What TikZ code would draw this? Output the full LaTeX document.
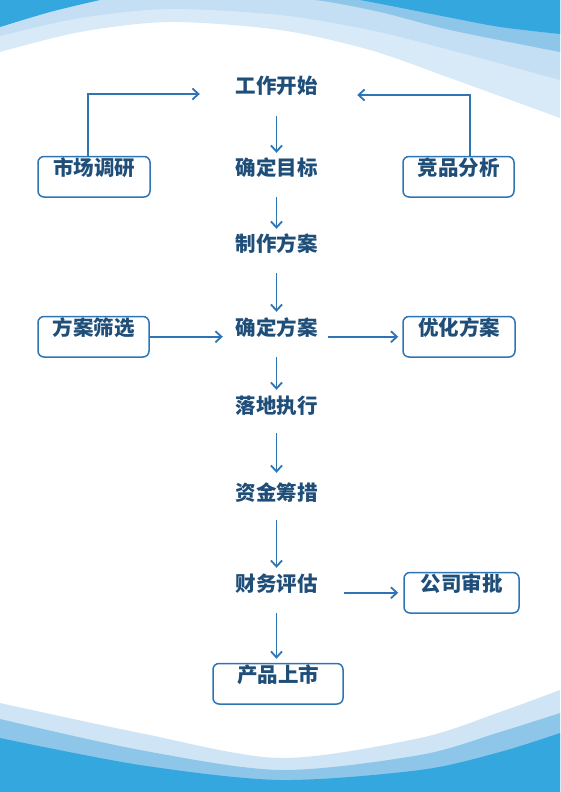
\documentclass[tikz,border=0pt]{standalone}
\usepackage{fontspec}
\newfontfamily\cjk{Noto Sans CJK SC}
\usetikzlibrary{positioning}
\usetikzlibrary{arrows.meta}

\definecolor{wavedark}{HTML}{35A7DF}
\definecolor{wavemid}{HTML}{8EC6EA}
\definecolor{wavelight}{HTML}{C4DFF3}
\definecolor{wavepale}{HTML}{D8EAF7}
\definecolor{wavepaleb}{HTML}{CFE5F5}
\definecolor{navy}{HTML}{1F4E79}
\definecolor{linkblue}{HTML}{2E75B6}

\tikzset{
  stage/.style={text=navy, font=\cjk\bfseries\fontsize{20.5}{20.5}\selectfont,
    inner sep=0pt, text height=16.5pt, text depth=1.5pt},
  sidebox/.style={stage, draw=linkblue, line width=1.5pt, rounded corners=6pt,
    text height=19pt, text depth=21.5pt, minimum width=#1},
  flow/.style={draw=linkblue, line width=1.8pt, -{Straight Barb[length=6pt,width=11pt]},
    shorten <=20pt, shorten >=7pt}
}

\begin{document}
\begin{tikzpicture}[x=1pt, y=-1pt, on grid]

    % background
    \useasboundingbox (0,0) rectangle (560,792);
    \fill[white] (0,0) rectangle (560,792);
    \begin{scope}
    \clip (0,0) rectangle (560,792);
    \fill[wavepale] plot[smooth] coordinates {(0,52) (80,32) (170,22) (280,30) (370,50) (450,78) (560,118)} -- (560,-5) -- (0,-5) -- cycle;
    \fill[wavelight] plot[smooth] coordinates {(0,36) (80,18) (170,9) (280,15) (370,30) (450,50) (560,80)} -- (560,-5) -- (0,-5) -- cycle;
    \fill[wavemid] plot[smooth] coordinates {(240,-5) (315,0) (380,12) (450,30) (560,52)} -- (560,-5) -- cycle;
    \fill[wavedark] plot[smooth] coordinates {(320,-5) (360,0) (447,17) (500,27) (560,34)} -- (560,-5) -- cycle;
    \fill[wavedark] plot[smooth] coordinates {(0,27) (50,12) (100,0) (130,-6)} -- (0,-6) -- cycle;
    \fill[wavepaleb] plot[smooth] coordinates {(0,703) (140,733) (280,758) (420,738) (500,712) (560,690)} -- (560,800) -- (0,800) -- cycle;
    \fill[wavemid] plot[smooth] coordinates {(0,719) (140,750) (280,770) (420,755) (500,732) (560,713)} -- (560,800) -- (0,800) -- cycle;
    \fill[wavedark] plot[smooth] coordinates {(0,738) (140,765) (280,780) (420,770) (500,752) (560,733)} -- (560,800) -- (0,800) -- cycle;
    \end{scope}

    %nodes
    \node[stage] (start) at (276.5,86) {工作开始};
    \node[stage, below=82pt of start] (goal) {确定目标};
    \node[stage, below=76pt of goal] (plan) {制作方案};
    \node[stage, below=84pt of plan] (confirm) {确定方案};
    \node[stage, below=78pt of confirm] (exec) {落地执行};
    \node[stage, below=87pt of exec] (funds) {资金筹措};
    \node[stage, below=91pt of funds] (fin) {财务评估};
    \node[sidebox=130pt, anchor=base] (launch) at ([xshift=1.5pt, yshift=-91pt]fin.base) {产品上市};
    \node[sidebox=112pt, anchor=base] (survey) at ([xshift=-182.5pt]goal.base) {市场调研};
    \node[sidebox=111pt, anchor=base] (rival) at ([xshift=182pt]goal.base) {竞品分析};
    \node[sidebox=111pt, anchor=base] (screen) at ([xshift=-183pt]confirm.base) {方案筛选};
    \node[sidebox=112pt, anchor=base] (optim) at ([xshift=182.5pt]confirm.base) {优化方案};
    \node[sidebox=115pt, anchor=base] (approve) at ([xshift=185pt]fin.base) {公司审批};

    % edges
    \draw[flow, shorten <=21pt, shorten >=6pt] (start) -- (goal);
    \draw[flow, shorten >=6pt] (goal) -- (plan);
    \draw[flow] (plan) -- (confirm);
    \draw[flow] (confirm) -- (exec);
    \draw[flow, shorten <=18pt, shorten >=11pt] (exec) -- (funds);
    \draw[flow, shorten <=18pt] (funds) -- (fin);
    \draw[flow, shorten >=4pt] (fin) -- (fin |- launch.north);
    \draw[flow, shorten <=0pt, shorten >=35.5pt] ([xshift=-6pt]survey.north) |- ([yshift=-8pt]start.west);
    \draw[flow, shorten <=0pt, shorten >=39.5pt] ([xshift=11.5pt]rival.north) |- ([yshift=-9pt]start.east);
    \draw[flow, shorten <=0pt, shorten >=12.5pt] (screen.east) -- (screen.east -| confirm.west);
    \draw[flow, shorten <=10pt, shorten >=4pt] (confirm.east |- optim.west) -- (optim.west);
    \draw[flow, shorten <=26pt, shorten >=5pt] (fin.east |- approve.west) -- (approve.west);

\end{tikzpicture}
\end{document}
